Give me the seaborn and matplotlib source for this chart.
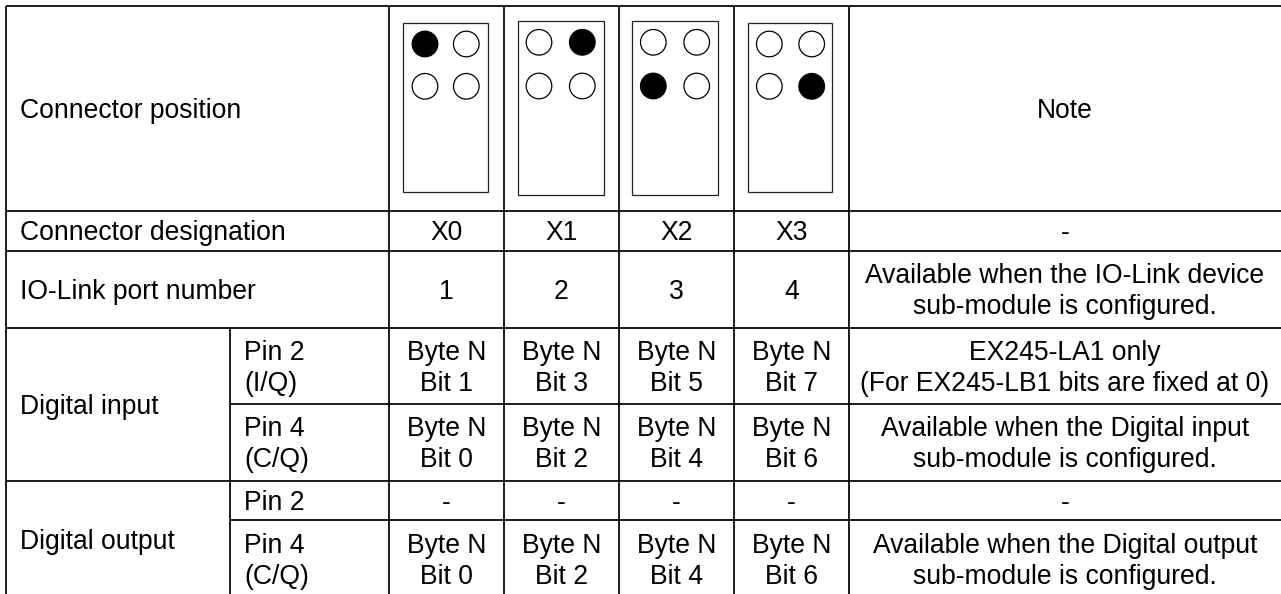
import pandas as pd
import seaborn as sns
import matplotlib.pyplot as plt
from matplotlib.patches import Rectangle

# table text
connectors = ['X0', 'X1', 'X2', 'X3']
ports = ['1', '2', '3', '4']
row_titles = ['Connector position', 'Connector designation', 'IO-Link port number']
group_titles = ['Digital input', 'Digital output']
pin_titles = [['Pin 2', '(I/Q)'], ['Pin 4', '(C/Q)'], ['Pin 2'], ['Pin 4', '(C/Q)']]
input_pin2_bits = [['Byte N', 'Bit 1'], ['Byte N', 'Bit 3'], ['Byte N', 'Bit 5'], ['Byte N', 'Bit 7']]
input_pin4_bits = [['Byte N', 'Bit 0'], ['Byte N', 'Bit 2'], ['Byte N', 'Bit 4'], ['Byte N', 'Bit 6']]
output_pin2_bits = [['-'], ['-'], ['-'], ['-']]
output_pin4_bits = [['Byte N', 'Bit 0'], ['Byte N', 'Bit 2'], ['Byte N', 'Bit 4'], ['Byte N', 'Bit 6']]
notes = [
    ['Note'],
    ['-'],
    ['Available when the IO-Link device', 'sub-module is configured.'],
    ['EX245-LA1 only', '(For EX245-LB1 bits are fixed at 0)'],
    ['Available when the Digital input', 'sub-module is configured.'],
    ['-'],
    ['Available when the Digital output', 'sub-module is configured.'],
]
# which pin is black in each connector (row, column)
active_row = [0, 0, 1, 1]
active_col = [0, 1, 0, 1]

# layout in pixels of the picture
col_edges = [6, 230, 389, 504, 619, 734, 849, 1281]
row_edges = [5.5, 210.5, 251, 327.5, 404, 480.7, 520, 598]
box_left = [403.3, 517.7, 632.3, 748.3]
box_right = [487.7, 603.7, 717.7, 832.3]
box_top = [23, 20.7, 20.7, 23]
box_bottom = [192.3, 195.3, 195.3, 192.3]
pin_xs = [[425, 466.3], [539, 582.3], [653.3, 696.7], [769.3, 811.7]]
pin_ys = [[44, 86.3], [42.3, 86], [42.3, 86], [44, 86.3]]

FONT_SIZE = 19.1
LINE_STEP = 31

sns.set_theme(style='white')
plt.rcParams['font.family'] = ['Liberation Sans', 'DejaVu Sans']

fig = plt.figure(figsize=(12.81, 5.94), dpi=100)
ax = fig.add_axes([0, 0, 1, 1])


def put_text(x, top, bottom, lines, ha='center'):
    """Writes one or two lines, placed by baseline like in the reference"""
    center = (top + bottom) / 2
    first = center + 9.5 if len(lines) == 1 else center - 6
    for i, line in enumerate(lines):
        ax.text(x, first + i * LINE_STEP, line, ha=ha, va='baseline',
                fontsize=FONT_SIZE, color='#000000')


# pins
rows = []
for c in range(len(connectors)):
    for r in range(2):
        for k in range(2):
            rows.append({'x': pin_xs[c][k], 'y': pin_ys[c][r],
                         'active': r == active_row[c] and k == active_col[c]})
pins = pd.DataFrame(rows)

# connector boxes
for c in range(len(connectors)):
    ax.add_patch(Rectangle((box_left[c], box_top[c]), box_right[c] - box_left[c],
                           box_bottom[c] - box_top[c], facecolor='white',
                           edgecolor='#222222', linewidth=0.9, zorder=1))

sns.scatterplot(data=pins, x='x', y='y', hue='active', palette={True: 'black', False: 'white'},
                s=340, edgecolor='black', linewidth=0.9, legend=False, ax=ax, zorder=2)

# grid lines
lw = 1.25
ax.hlines([row_edges[0], row_edges[1], row_edges[2], row_edges[3], row_edges[5]],
          col_edges[0], col_edges[-1], color='black', linewidth=lw)
ax.hlines([row_edges[4], row_edges[6]], col_edges[1], col_edges[-1], color='black', linewidth=lw)
ax.vlines(col_edges[0], row_edges[0], 594, color='black', linewidth=lw)
ax.vlines(col_edges[1], row_edges[3], 594, color='black', linewidth=lw)
ax.vlines(col_edges[2:7], row_edges[0], 594, color='black', linewidth=lw)

# left titles
for i, title in enumerate(row_titles):
    put_text(20, row_edges[i], row_edges[i + 1], [title], ha='left')
put_text(20, row_edges[3], row_edges[5], [group_titles[0]], ha='left')
put_text(20, row_edges[5], row_edges[7], [group_titles[1]], ha='left')
for i, lines in enumerate(pin_titles):
    put_text(244, row_edges[i + 3], row_edges[i + 4], lines, ha='left')

# connector columns
column_rows = [[[c] for c in connectors], [[p] for p in ports],
               input_pin2_bits, input_pin4_bits, output_pin2_bits, output_pin4_bits]
for i, values in enumerate(column_rows):
    for c in range(len(connectors)):
        put_text((col_edges[c + 2] + col_edges[c + 3]) / 2, row_edges[i + 1], row_edges[i + 2], values[c])

# note column
for i, lines in enumerate(notes):
    put_text((col_edges[6] + col_edges[7]) / 2, row_edges[i], row_edges[i + 1], lines)

ax.set_xlim(0, 1281)
ax.set_ylim(594, 0)
ax.set_axis_off()

plt.savefig('out.png', dpi=100)
